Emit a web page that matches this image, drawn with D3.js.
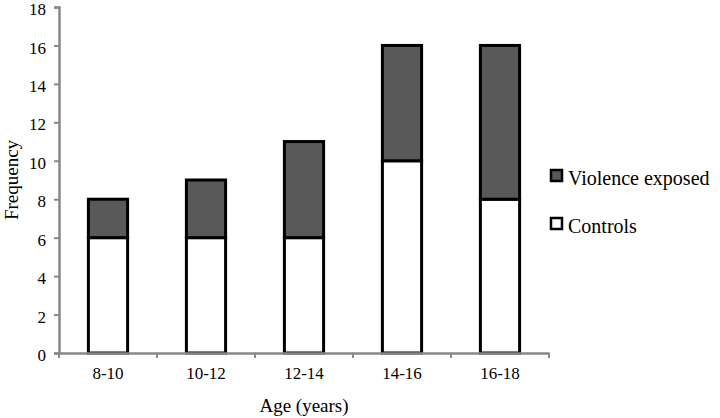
<!DOCTYPE html>
<html>
<head>
  <meta charset="utf-8">
  <script src="https://d3js.org/d3.v7.min.js"></script>
  <style>
    body { margin: 0; background: #fff; }
    text { font-family: "Liberation Serif", "DejaVu Serif", serif; fill: #000; }
  </style>
</head>
<body>
<script>
  // data
  var ageGroups = ["8-10", "10-12", "12-14", "14-16", "16-18"];
  var controls = [6, 6, 6, 10, 8];
  var violenceExposed = [2, 3, 5, 6, 8];
  var seriesNames = ["Violence exposed", "Controls"];
  var yTicks = [0, 2, 4, 6, 8, 10, 12, 14, 16, 18];

  var W = 720, H = 418;
  var plotLeft = 59, plotRight = 549, plotTop = 7, plotBottom = 353;

  var svg = d3.select("body").append("svg")
      .attr("width", W)
      .attr("height", H);

  var x = d3.scaleBand().domain(ageGroups).range([plotLeft, plotRight]).paddingInner(0.6).paddingOuter(0.3);
  var xb = d3.scaleBand().domain(ageGroups).range([plotLeft, plotRight]);
  var y = d3.scaleLinear().domain([0, 18]).range([plotBottom, plotTop]);

  var rows = ageGroups.map(function(g, i) {
    return { group: g, c: controls[i], v: violenceExposed[i] };
  });

  // bars - controls on bottom, violence exposed stacked on top
  var bars = svg.append("g");
  bars.selectAll("rect.ctl").data(rows).enter().append("rect")
      .attr("class", "ctl")
      .attr("x", function(d) { return x(d.group); })
      .attr("width", x.bandwidth())
      .attr("y", function(d) { return y(d.c); })
      .attr("height", function(d) { return y(0) - y(d.c); })
      .attr("fill", "#fff")
      .attr("stroke", "#000")
      .attr("stroke-width", 3);
  bars.selectAll("rect.vio").data(rows).enter().append("rect")
      .attr("class", "vio")
      .attr("x", function(d) { return x(d.group); })
      .attr("width", x.bandwidth())
      .attr("y", function(d) { return y(d.c + d.v); })
      .attr("height", function(d) { return y(d.c) - y(d.c + d.v); })
      .attr("fill", "#595959")
      .attr("stroke", "#000")
      .attr("stroke-width", 3);

  // y axis
  var yAxis = svg.append("g")
      .attr("transform", "translate(" + plotLeft + ",0)")
      .call(d3.axisLeft(y).tickValues(yTicks).tickSize(5).tickPadding(8));
  yAxis.select(".domain").attr("stroke", "#888").attr("stroke-width", 2.5);
  yAxis.selectAll(".tick line").attr("stroke", "#888").attr("stroke-width", 2);
  yAxis.selectAll(".tick text")
      .attr("dy", "0.45em")
      .style("font-size", "17px").style("font-family", "Liberation Serif");

  // x axis with ticks at the category boundaries
  var xAxis = svg.append("g")
      .attr("transform", "translate(0," + plotBottom + ")")
      .call(d3.axisBottom(xb).tickSize(0).tickPadding(14));
  xAxis.select(".domain").attr("stroke", "#888").attr("stroke-width", 2.5);
  xAxis.selectAll(".tick text").style("font-size", "17px").style("font-family", "Liberation Serif");
  xAxis.selectAll("line.sep")
      .data(ageGroups.map(function(g) { return xb(g); }).concat([plotRight]))
      .enter().append("line")
      .attr("class", "sep")
      .attr("x1", function(d) { return d; })
      .attr("x2", function(d) { return d; })
      .attr("y1", 0).attr("y2", 5)
      .attr("stroke", "#888").attr("stroke-width", 2);

  // axis titles
  svg.append("text")
      .attr("x", (plotLeft + plotRight) / 2)
      .attr("y", 412)
      .attr("text-anchor", "middle")
      .style("font-size", "19px")
      .text("Age (years)");
  svg.append("text")
      .attr("transform", "translate(18," + ((plotTop + plotBottom) / 2) + ") rotate(-90)")
      .attr("text-anchor", "middle")
      .style("font-size", "19px")
      .text("Frequency");

  // legend
  var legend = svg.append("g")
      .attr("transform", "translate(551,170)")
      .selectAll("g")
      .data(seriesNames)
      .enter().append("g")
      .attr("transform", function(d, i) { return "translate(0," + (i * 48) + ")"; });
  legend.append("rect")
      .attr("width", 11).attr("height", 11)
      .attr("fill", function(d) { return d == "Controls" ? "#fff" : "#595959"; })
      .attr("stroke", "#000")
      .attr("stroke-width", 2.5);
  legend.append("text")
      .attr("x", 17)
      .attr("y", 15)
      .style("font-size", "20px")
      .text(function(d) { return d; });
</script>
</body>
</html>
